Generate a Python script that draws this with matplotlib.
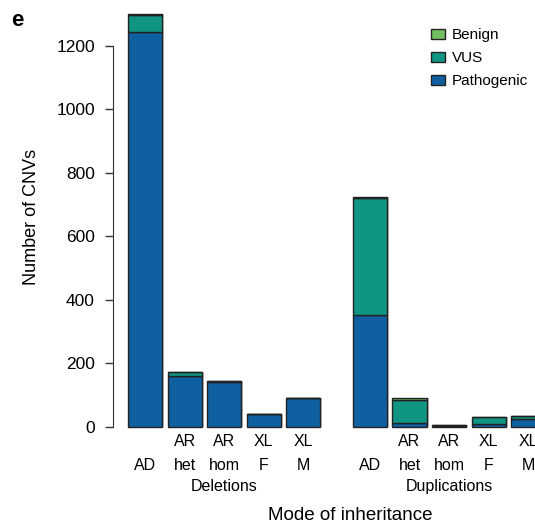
import matplotlib
matplotlib.use("Agg")
import matplotlib.pyplot as plt
import numpy as np
from matplotlib.patches import Patch

plt.rcParams['font.family'] = ['Liberation Sans', 'DejaVu Sans']

line1 = ["", "AR", "AR", "XL", "XL"]
line2 = ["AD", "het", "hom", "F", "M"]
groups = ["Deletions", "Duplications"]

del_path = [1245, 161, 141, 40, 92]
del_vus = [53, 10, 2, 0, 0]
del_benign = [2, 1, 1, 0, 0]

dup_path = [352, 13, 2, 9, 23]
dup_vus = [368, 71, 3, 21, 11]
dup_benign = [3, 5, 1, 1, 1]

c_path = "#105fa0"
c_vus = "#109583"
c_benign = "#72bf62"
edge = "#222222"

fig = plt.figure(figsize=(5.35, 5.26), dpi=100)
ax = fig.add_axes([113/535, 99.3/526, 1 - 113/535, (426.7 - 8)/526])

gap = 1.68
pos_del = np.arange(5)
pos_dup = np.arange(5) + 4 + gap
w = 0.86

for pos, p, v, b in [(pos_del, del_path, del_vus, del_benign),
                     (pos_dup, dup_path, dup_vus, dup_benign)]:
    p = np.array(p); v = np.array(v); b = np.array(b)
    ax.bar(pos + 0.05, p + v + b, w, color='#c4c4c4', linewidth=0, clip_on=False, zorder=1)
    ax.bar(pos, p, w, color=c_path, edgecolor=edge, linewidth=1.0, clip_on=False, zorder=2)
    ax.bar(pos, v, w, bottom=p, color=c_vus, edgecolor=edge, linewidth=1.0, clip_on=False, zorder=2)
    ax.bar(pos, b, w, bottom=p + v, color=c_benign, edgecolor=edge, linewidth=1.0, clip_on=False, zorder=2)

ax.set_xlim(-0.81, 9.85)
ax.set_ylim(0, (426.7 - 8) * 3.152)
ax.set_yticks([0, 200, 400, 600, 800, 1000, 1200])
ax.spines['left'].set_bounds(0, 1200)
ax.spines['left'].set_color('#333333')
for s in ['top', 'right', 'bottom']:
    ax.spines[s].set_visible(False)
ax.tick_params(axis='y', labelsize=12.5, length=6, width=1, color='#333333', pad=7)
ax.set_xticks([])
ax.set_ylabel("Number of CNVs", fontsize=13, labelpad=12)

for pos in (pos_del, pos_dup):
    for x, l1, l2 in zip(pos, line1, line2):
        ax.annotate(l1, xy=(x, 0), xycoords=('data', 'axes fraction'),
                    xytext=(0, -11), textcoords='offset points',
                    ha='center', va='center', fontsize=11.5, annotation_clip=False)
        ax.annotate(l2, xy=(x, 0), xycoords=('data', 'axes fraction'),
                    xytext=(0, -27.6), textcoords='offset points',
                    ha='center', va='center', fontsize=11.5, annotation_clip=False)

for pos, g in zip((pos_del, pos_dup), groups):
    ax.annotate(g, xy=(pos[2], 0), xycoords=('data', 'axes fraction'),
                xytext=(0, -43.4), textcoords='offset points',
                ha='center', va='center', fontsize=11.5, annotation_clip=False)

fig.text(350/535, 1 - 515/526, "Mode of inheritance", ha='center', va='center', fontsize=13.5)
fig.text(11/535, 1 - 21/526, "e", ha='left', va='center', fontsize=16, fontweight='bold')

handles = [Patch(facecolor=c_benign, edgecolor=edge, label="Benign"),
           Patch(facecolor=c_vus, edgecolor=edge, label="VUS"),
           Patch(facecolor=c_path, edgecolor=edge, label="Pathogenic")]
fig.legend(handles=handles, loc='upper left', bbox_to_anchor=(431/535, 1 - 28/526),
           frameon=False, fontsize=11, handlelength=0.92, handleheight=0.65,
           handletextpad=0.46, labelspacing=0.6, borderaxespad=0, borderpad=0)

fig.savefig("out.png", dpi=100)
